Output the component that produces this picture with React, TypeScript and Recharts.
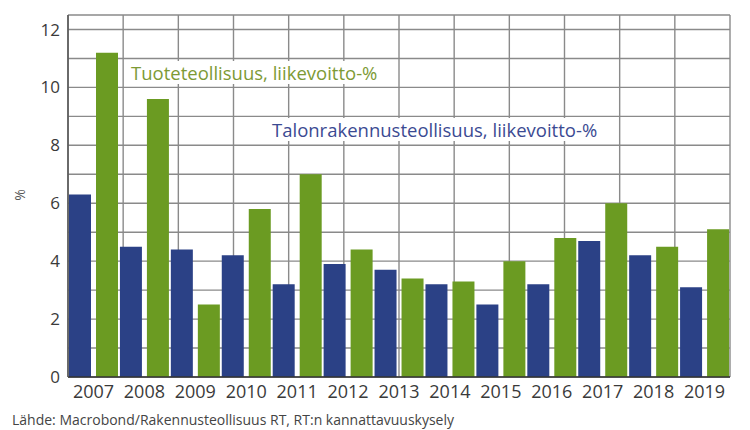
import { BarChart, Bar, XAxis, YAxis, CartesianGrid } from 'recharts';

const years = ['2007', '2008', '2009', '2010', '2011', '2012', '2013', '2014', '2015', '2016', '2017', '2018', '2019'];
const talonrakennus = [6.3, 4.5, 4.4, 4.2, 3.2, 3.9, 3.7, 3.2, 2.5, 3.2, 4.7, 4.2, 3.1];
const tuote = [11.2, 9.6, 2.5, 5.8, 7.0, 4.4, 3.4, 3.3, 4.0, 4.8, 6.0, 4.5, 5.1];
const yTicks = [0, 1, 2, 3, 4, 5, 6, 7, 8, 9, 10, 11, 12, 12.5];
const gridTicks = [0, 1, 2, 3, 4, 5, 6, 7, 8, 9, 10, 11, 12, 13];

const data = years.map((y, i) => ({ year: y, talo: talonrakennus[i], tuote: tuote[i] }));

const FONT = '"Open Sans", "Liberation Sans", sans-serif';

export default function App() {
  return (
    <div style={{ position: 'absolute', left: 0, top: 0, width: 750, height: 430, background: '#fff', fontFamily: FONT }}>
      <BarChart
        width={750}
        height={410}
        data={data}
        margin={{ top: 15, right: 20, left: 28, bottom: 0 }}
        barCategoryGap={1}
        barGap={5}
      >
        <CartesianGrid xAxisId="g" stroke="#8a8a8a" strokeWidth={1.4} />
        <XAxis xAxisId="g" type="number" domain={[0, 13]} ticks={gridTicks} hide allowDataOverflow />
        <XAxis
          dataKey="year"
          interval={0}
          tickLine={false}
          axisLine={{ stroke: '#333', strokeWidth: 1.5 }}
          tick={{ fill: '#3a3a3a', fontSize: 18, fontFamily: FONT }}
          height={33}
        />
        <YAxis
          width={40}
          domain={[0, 12.5]}
          ticks={yTicks}
          interval={0}
          tickLine={false}
          axisLine={{ stroke: '#555', strokeWidth: 1.5 }}
          tickFormatter={(v) => (v % 2 === 0 ? String(v) : '')}
          tick={{ fill: '#3a3a3a', fontSize: 17, fontFamily: FONT }}
          allowDataOverflow
        />
        <Bar dataKey="talo" fill="#2b4186" isAnimationActive={false} />
        <Bar dataKey="tuote" fill="#6b9b22" isAnimationActive={false} />
      </BarChart>
      <div
        style={{
          position: 'absolute', left: 129, top: 61, background: '#fff', padding: '0 2px',
          color: '#7d9a35', fontSize: 18.5, lineHeight: '23px', whiteSpace: 'nowrap',
        }}
      >
        Tuoteteollisuus, liikevoitto-%
      </div>
      <div
        style={{
          position: 'absolute', left: 270, top: 118, background: '#fff', padding: '0 2px',
          color: '#3b4a92', fontSize: 18.5, lineHeight: '23px', whiteSpace: 'nowrap',
        }}
      >
        Talonrakennusteollisuus, liikevoitto-%
      </div>
      <div
        style={{
          position: 'absolute', left: 14, top: 186, transform: 'rotate(-90deg)',
          color: '#555', fontSize: 14, lineHeight: '18px',
        }}
      >
        %
      </div>
      <div
        style={{
          position: 'absolute', left: 12, top: 411, color: '#444', fontSize: 14,
          lineHeight: '18px', whiteSpace: 'nowrap',
        }}
      >
        Lähde: Macrobond/Rakennusteollisuus RT, RT:n kannattavuuskysely
      </div>
    </div>
  );
}
